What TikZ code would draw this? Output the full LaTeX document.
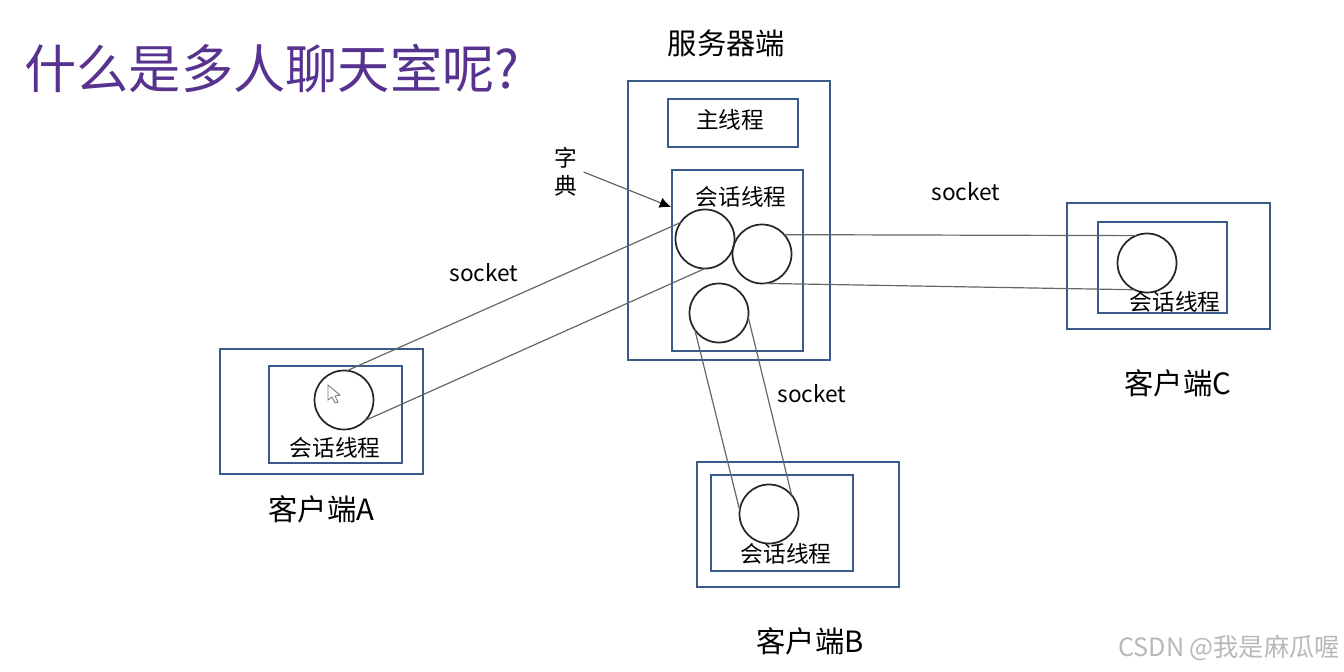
\documentclass[tikz,border=0pt]{standalone}
\usepackage{fontspec}
\usepackage{xcolor}
\usetikzlibrary{arrows.meta}
\usetikzlibrary{positioning}
\setmainfont{Noto Sans CJK SC}
\definecolor{boxblue}{HTML}{3A5A8C}
\definecolor{titlepurple}{HTML}{57338F}

\begin{document}
\begin{tikzpicture}[x=0.75pt,y=-0.75pt]
		\tikzstyle{block} = [rectangle, draw=boxblue, line width=1.2pt, inner sep=0pt, outer sep=0pt]
		\tikzstyle{thread} = [circle, draw=black!85, line width=1.3pt, minimum size=44.25pt, inner sep=0pt, outer sep=0pt]
		\tikzstyle{line} = [draw=black!60, line width=0.9pt]
		\tikzstyle{label} = [inner sep=0pt, font=\fontsize{17pt}{20pt}\selectfont]
		\tikzstyle{caption} = [inner sep=0pt, font=\fontsize{22pt}{26pt}\selectfont]

		\useasboundingbox (0,0) rectangle (1344,671);

		% Title
		\node [anchor=west, inner sep=0pt, text=titlepurple, font=\fontsize{39.2pt}{46pt}\selectfont] (title) at (24,68) {什么是多人聊天室呢?};

		% Server
		\node [block, minimum width=151.5pt, minimum height=209.25pt] (server) at (729,220.5) {};
		\node [caption, above=18pt of server.north, xshift=-2pt] (serverlabel) {服务器端};
		\node [block, minimum width=97.5pt, minimum height=36pt] (mainthread) at (733,123) {};
		\node [label] (mainlabel) at (730,120) {主线程};
		\node [block, minimum width=98.25pt, minimum height=135.75pt] (session) at (737.5,260.5) {};
		\node [label] (sessionlabel) at (741,197) {会话线程};
		\node [thread] (sa) at (705,239) {};
		\node [thread] (sc) at (762,254) {};
		\node [thread] (sb) at (719,313) {};

		% Dictionary
		\node [label, align=center, font=\fontsize{17pt}{21pt}\selectfont] (dict) at (566,172) {字\\典};
		\coordinate (dicttip) at (671,207);

		% Client A
		\node [block, minimum width=152.25pt, minimum height=93.75pt] (clienta) at (321.5,411.5) {};
		\node [block, minimum width=99.75pt, minimum height=72.75pt] (innera) at (335.5,414.5) {};
		\node [thread] (ca) at (344,400) {};
		\node [label] (labela) at (335,448) {会话线程};
		\node [caption, below=16pt of clienta.south] (namea) {客户端A};

		% Client B
		\node [block, minimum width=151.5pt, minimum height=93.75pt] (clientb) at (798,524.5) {};
		\node [block, minimum width=106.5pt, minimum height=72pt] (innerb) at (782,523) {};
		\node [thread] (cb) at (769,514) {};
		\node [label] (labelb) at (786,554) {会话线程};
		\node [caption, below=30pt of clientb.south, xshift=9pt] (nameb) {客户端B};

		% Client C
		\node [block, minimum width=152.25pt, minimum height=94.5pt] (clientc) at (1168.5,266) {};
		\node [block, minimum width=96.75pt, minimum height=68.25pt] (innerc) at (1162.5,267.5) {};
		\node [thread] (cc) at (1147,263) {};
		\node [label] (labelc) at (1175,302) {会话线程};
		\node [caption, below=30pt of clientc.south, xshift=7pt] (namec) {客户端C};

		% arrows
		\draw [line, -{Latex[length=8.5pt, width=8pt, color=black]}] (dict.east) ++(6,0) coordinate (dictstart) -- (dicttip);

		\draw [line] (sa.146) -- (ca.84);
		\draw [line] (sa.270) -- (ca.-44);
		\node [label] (socketa) at (484,273) {socket};

		\draw [line] (sc.41) -- (cc.112);
		\draw [line] (sc.-85) -- (cc.-115);
		\node [label] (socketc) at (966,192) {socket};

		\draw [line] (sb.215) -- (cb.173);
		\draw [line] (sb.-8) -- (cb.40);
		\node [label] (socketb) at (812,394) {socket};

		% cursor
		\draw [draw=black!55, fill=white, line width=0.6pt] (328,385) -- (328,400) -- (332,397) -- (335,403) -- (338,402) -- (335,396) -- (340,395) -- cycle;

		% watermark
		\node [anchor=east, inner sep=0pt, text=black!28, font=\fontsize{18.9pt}{22pt}\selectfont] (mark) at (1340,648) {CSDN @我是麻瓜喔};
	\end{tikzpicture}
\end{document}
